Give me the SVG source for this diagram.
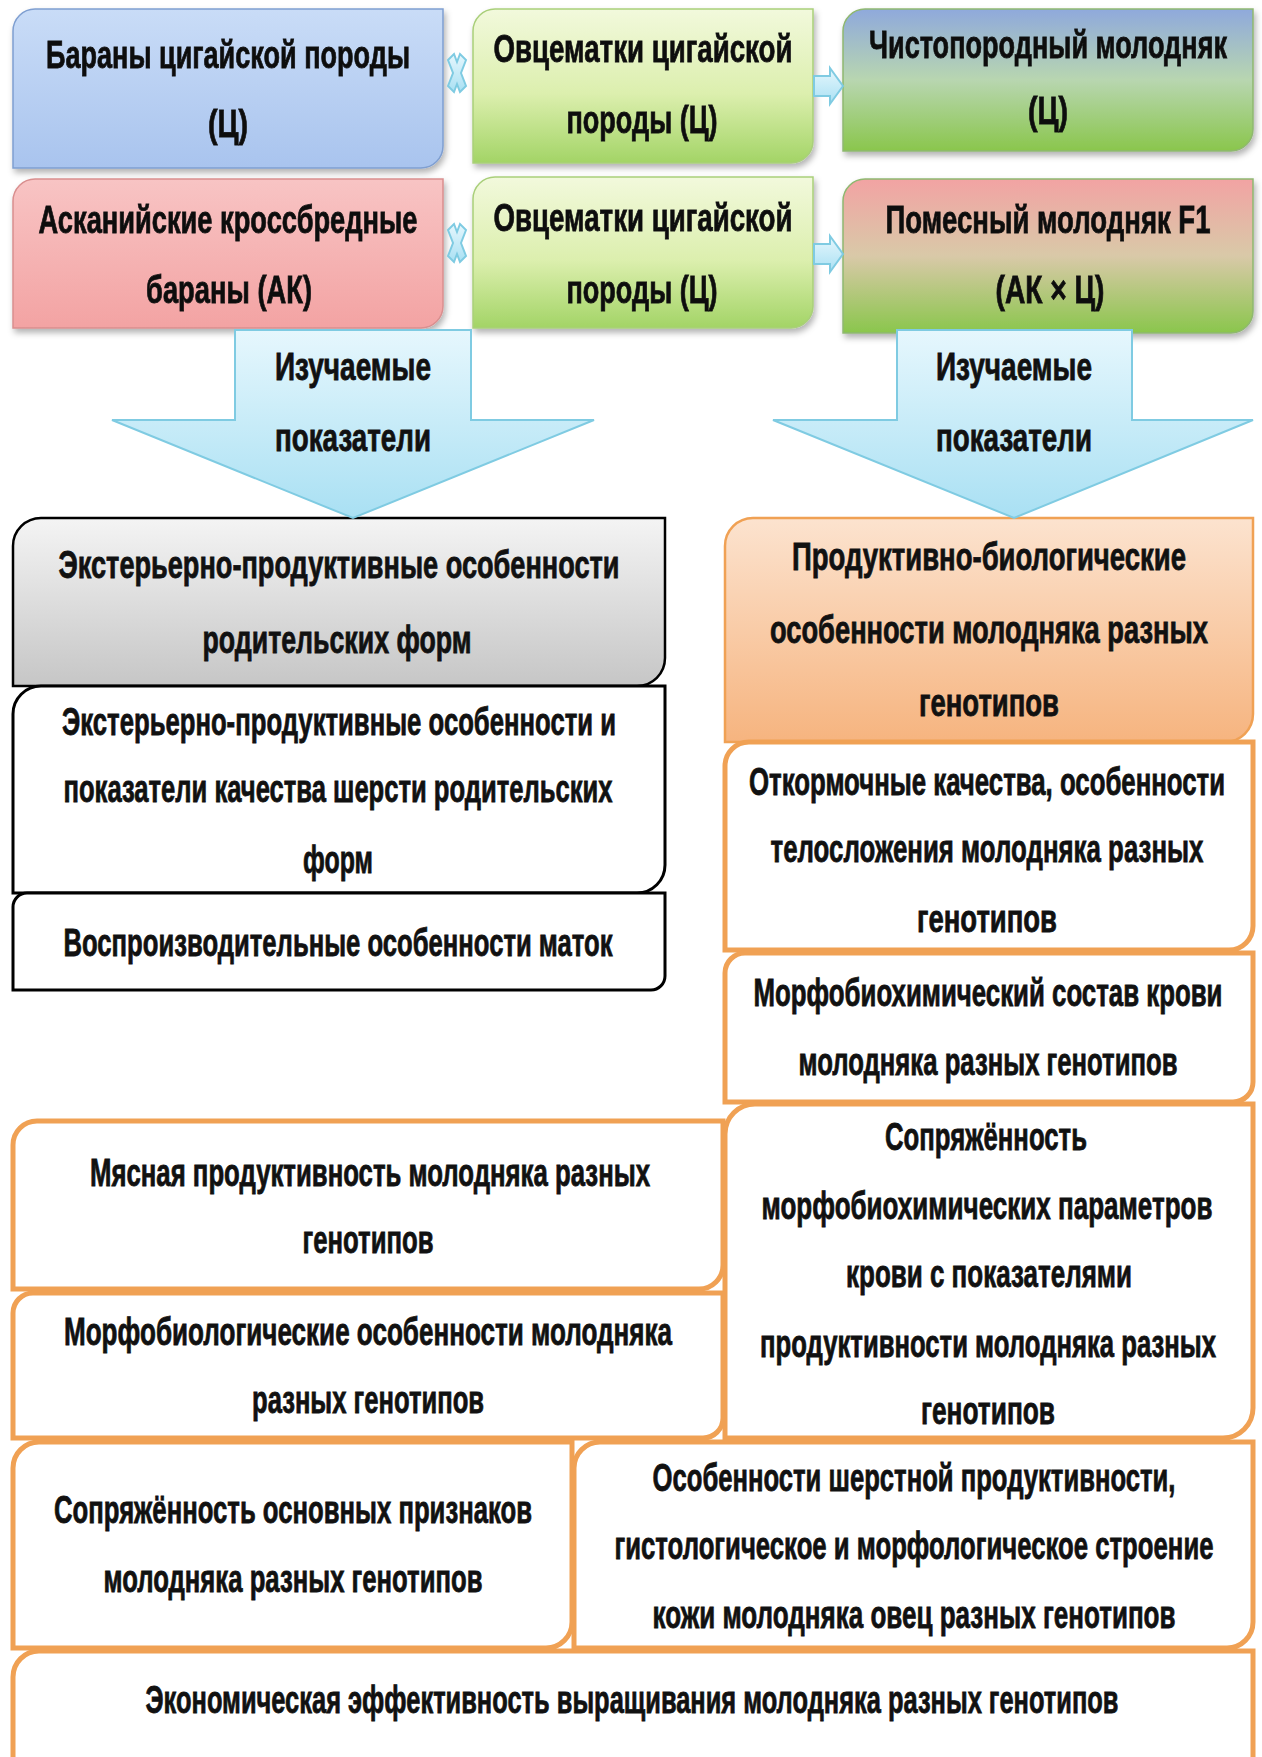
<svg xmlns="http://www.w3.org/2000/svg" width="1262" height="1757" viewBox="0 0 1262 1757">
<defs>
<linearGradient id="gBlue" x1="0" y1="0" x2="0" y2="1"><stop offset="0" stop-color="#c9dcf7"/><stop offset="1" stop-color="#a9c4ee"/></linearGradient>
<linearGradient id="gGreen" x1="0" y1="0" x2="0" y2="1"><stop offset="0" stop-color="#f2f9dc"/><stop offset="0.55" stop-color="#dcefae"/><stop offset="1" stop-color="#a3d466"/></linearGradient>
<linearGradient id="gBlueGreen" x1="0" y1="0" x2="0" y2="1"><stop offset="0" stop-color="#8fa9dc"/><stop offset="0.5" stop-color="#b8d6b0"/><stop offset="1" stop-color="#8ac64c"/></linearGradient>
<linearGradient id="gRed" x1="0" y1="0" x2="0" y2="1"><stop offset="0" stop-color="#f8c4c4"/><stop offset="1" stop-color="#f3a3a3"/></linearGradient>
<linearGradient id="gRedGreen" x1="0" y1="0" x2="0" y2="1"><stop offset="0" stop-color="#f2a3a3"/><stop offset="0.5" stop-color="#d9c9a8"/><stop offset="1" stop-color="#8ac64c"/></linearGradient>
<linearGradient id="gGray" x1="0" y1="0" x2="0" y2="1"><stop offset="0" stop-color="#f4f4f4"/><stop offset="1" stop-color="#c6c6c6"/></linearGradient>
<linearGradient id="gOrange" x1="0" y1="0" x2="0" y2="1"><stop offset="0" stop-color="#fce3cf"/><stop offset="1" stop-color="#f6b47f"/></linearGradient>
<linearGradient id="gCyan" x1="0" y1="0" x2="0" y2="1"><stop offset="0" stop-color="#e6f7fd"/><stop offset="1" stop-color="#a9e0f3"/></linearGradient>
<filter id="sh" x="-5%" y="-5%" width="110%" height="115%"><feDropShadow dx="2" dy="4" stdDeviation="3" flood-color="#000" flood-opacity="0.3"/></filter>
<style>
.t{font-family:"Liberation Sans",Arial,sans-serif;font-weight:bold;font-size:38px;text-anchor:middle;fill:#111;stroke:#111;stroke-width:0.8px;}
.top{filter:url(#sh);}
.org{fill:#fff;stroke:#f0a154;stroke-width:5;}
.blk{fill:#fff;stroke:#000;stroke-width:3;}
.arr{fill:url(#gCyan);stroke:#7fcbe2;stroke-width:2;}
</style>
</defs>
<rect width="1262" height="1757" fill="#fff"/>

<g id="nodeA" class="top"><path d="M35 9 H443 V146 A22 22 0 0 1 421 168 H13 V31 A22 22 0 0 1 35 9 Z" fill="url(#gBlue)" stroke="#7f9fd1" stroke-width="1.5"/>
<text class="t" x="228" y="68" textLength="364" lengthAdjust="spacingAndGlyphs">Бараны цигайской породы</text>
<text class="t" x="228" y="137" textLength="40" lengthAdjust="spacingAndGlyphs">(Ц)</text></g>

<g id="nodeB" class="top"><path d="M495 9 H813 V141 A22 22 0 0 1 791 163 H473 V31 A22 22 0 0 1 495 9 Z" fill="url(#gGreen)" stroke="#a9cf7a" stroke-width="1.5"/>
<text class="t" x="643" y="62" textLength="299" lengthAdjust="spacingAndGlyphs">Овцематки цигайской</text>
<text class="t" x="642" y="133" textLength="151" lengthAdjust="spacingAndGlyphs">породы (Ц)</text></g>

<g id="nodeC" class="top"><path d="M865 9 H1253 V129 A22 22 0 0 1 1231 151 H843 V31 A22 22 0 0 1 865 9 Z" fill="url(#gBlueGreen)" stroke="#8fb870" stroke-width="1.5"/>
<text class="t" x="1048" y="58" textLength="358" lengthAdjust="spacingAndGlyphs">Чистопородный молодняк</text>
<text class="t" x="1048" y="124" textLength="40" lengthAdjust="spacingAndGlyphs">(Ц)</text></g>

<g id="nodeD" class="top"><path d="M35 179 H443 V306 A22 22 0 0 1 421 328 H13 V201 A22 22 0 0 1 35 179 Z" fill="url(#gRed)" stroke="#d98f8f" stroke-width="1.5"/>
<text class="t" x="228" y="233" textLength="379" lengthAdjust="spacingAndGlyphs">Асканийские кроссбредные</text>
<text class="t" x="229" y="303" textLength="166" lengthAdjust="spacingAndGlyphs">бараны (АК)</text></g>

<g id="nodeE" class="top"><path d="M495 177 H813 V306 A22 22 0 0 1 791 328 H473 V199 A22 22 0 0 1 495 177 Z" fill="url(#gGreen)" stroke="#a9cf7a" stroke-width="1.5"/>
<text class="t" x="643" y="231" textLength="299" lengthAdjust="spacingAndGlyphs">Овцематки цигайской</text>
<text class="t" x="642" y="303" textLength="151" lengthAdjust="spacingAndGlyphs">породы (Ц)</text></g>

<g id="nodeF" class="top"><path d="M865 179 H1253 V311 A22 22 0 0 1 1231 333 H843 V201 A22 22 0 0 1 865 179 Z" fill="url(#gRedGreen)" stroke="#8fb870" stroke-width="1.5"/>
<text class="t" x="1048" y="233" textLength="325" lengthAdjust="spacingAndGlyphs">Помесный молодняк F1</text>
<text class="t" x="1050" y="303" textLength="109" lengthAdjust="spacingAndGlyphs">(АК × Ц)</text></g>

<g id="nodeGray"><path d="M41 518 H665 V658 A28 28 0 0 1 637 686 H13 V546 A28 28 0 0 1 41 518 Z" fill="url(#gGray)" stroke="#000" stroke-width="2.5"/>
<text class="t" x="339" y="578" textLength="561" lengthAdjust="spacingAndGlyphs">Экстерьерно-продуктивные особенности</text>
<text class="t" x="337" y="653" textLength="269" lengthAdjust="spacingAndGlyphs">родительских форм</text></g>

<g id="nodeW1"><path class="blk" d="M41 686 H665 V865 A28 28 0 0 1 637 893 H13 V714 A28 28 0 0 1 41 686 Z"/>
<text class="t" x="339" y="735" textLength="554" lengthAdjust="spacingAndGlyphs">Экстерьерно-продуктивные особенности и</text>
<text class="t" x="338" y="802" textLength="549" lengthAdjust="spacingAndGlyphs">показатели качества шерсти родительских</text>
<text class="t" x="338" y="873" textLength="70" lengthAdjust="spacingAndGlyphs">форм</text></g>

<g id="nodeW2"><path class="blk" d="M27 893 H665 V976 A14 14 0 0 1 651 990 H13 V907 A14 14 0 0 1 27 893 Z"/>
<text class="t" x="338" y="956" textLength="549" lengthAdjust="spacingAndGlyphs">Воспроизводительные особенности маток</text></g>

<g id="nodeOrange"><path d="M753 518 H1253 V714 A28 28 0 0 1 1225 742 H725 V546 A28 28 0 0 1 753 518 Z" fill="url(#gOrange)" stroke="#f0a154" stroke-width="2.5"/>
<text class="t" x="989" y="570" textLength="394" lengthAdjust="spacingAndGlyphs">Продуктивно-биологические</text>
<text class="t" x="989" y="643" textLength="438" lengthAdjust="spacingAndGlyphs">особенности молодняка разных</text>
<text class="t" x="989" y="716" textLength="140" lengthAdjust="spacingAndGlyphs">генотипов</text></g>

<g id="nodeR1"><path class="org" d="M749 742 H1253 V926 A24 24 0 0 1 1229 950 H725 V766 A24 24 0 0 1 749 742 Z"/>
<text class="t" x="987" y="795" textLength="476" lengthAdjust="spacingAndGlyphs">Откормочные качества, особенности</text>
<text class="t" x="987" y="862" textLength="433" lengthAdjust="spacingAndGlyphs">телосложения молодняка разных</text>
<text class="t" x="987" y="932" textLength="140" lengthAdjust="spacingAndGlyphs">генотипов</text></g>

<g id="nodeR2"><path class="org" d="M745 953 H1253 V1082 A20 20 0 0 1 1233 1102 H725 V973 A20 20 0 0 1 745 953 Z"/>
<text class="t" x="988" y="1006" textLength="469" lengthAdjust="spacingAndGlyphs">Морфобиохимический состав крови</text>
<text class="t" x="988" y="1075" textLength="379" lengthAdjust="spacingAndGlyphs">молодняка разных генотипов</text></g>

<g id="nodeMeat"><path class="org" d="M37 1121 H723 V1265 A24 24 0 0 1 699 1289 H13 V1145 A24 24 0 0 1 37 1121 Z"/>
<text class="t" x="370" y="1186" textLength="560" lengthAdjust="spacingAndGlyphs">Мясная продуктивность молодняка разных</text>
<text class="t" x="368" y="1253" textLength="131" lengthAdjust="spacingAndGlyphs">генотипов</text></g>

<g id="nodeMorph"><path class="org" d="M33 1293 H723 V1418 A20 20 0 0 1 703 1438 H13 V1313 A20 20 0 0 1 33 1293 Z"/>
<text class="t" x="368" y="1345" textLength="608" lengthAdjust="spacingAndGlyphs">Морфобиологические особенности молодняка</text>
<text class="t" x="368" y="1413" textLength="232" lengthAdjust="spacingAndGlyphs">разных генотипов</text></g>

<g id="nodeCorr"><path class="org" d="M755 1104 H1253 V1408 A30 30 0 0 1 1223 1438 H725 V1134 A30 30 0 0 1 755 1104 Z"/>
<text class="t" x="986" y="1150" textLength="202" lengthAdjust="spacingAndGlyphs">Сопряжённость</text>
<text class="t" x="987" y="1219" textLength="451" lengthAdjust="spacingAndGlyphs">морфобиохимических параметров</text>
<text class="t" x="989" y="1287" textLength="286" lengthAdjust="spacingAndGlyphs">крови с показателями</text>
<text class="t" x="988" y="1357" textLength="456" lengthAdjust="spacingAndGlyphs">продуктивности молодняка разных</text>
<text class="t" x="988" y="1424" textLength="134" lengthAdjust="spacingAndGlyphs">генотипов</text></g>

<g id="nodeBL"><path class="org" d="M39 1442 H572 V1622 A26 26 0 0 1 546 1648 H13 V1468 A26 26 0 0 1 39 1442 Z"/>
<text class="t" x="293" y="1523" textLength="478" lengthAdjust="spacingAndGlyphs">Сопряжённость основных признаков</text>
<text class="t" x="293" y="1592" textLength="379" lengthAdjust="spacingAndGlyphs">молодняка разных генотипов</text></g>

<g id="nodeBR"><path class="org" d="M600 1442 H1253 V1622 A26 26 0 0 1 1227 1648 H574 V1468 A26 26 0 0 1 600 1442 Z"/>
<text class="t" x="914" y="1491" textLength="523" lengthAdjust="spacingAndGlyphs">Особенности шерстной продуктивности,</text>
<text class="t" x="914" y="1559" textLength="599" lengthAdjust="spacingAndGlyphs">гистологическое и морфологическое строение</text>
<text class="t" x="914" y="1628" textLength="523" lengthAdjust="spacingAndGlyphs">кожи молодняка овец разных генотипов</text></g>

<g id="nodeEcon"><path class="org" d="M39 1651 H1253 V1775 H13 V1677 A26 26 0 0 1 39 1651 Z"/>
<text class="t" x="632" y="1713" textLength="973" lengthAdjust="spacingAndGlyphs">Экономическая эффективность выращивания молодняка разных генотипов</text></g>

<g id="connectors">
<g class="arr">
<path d="M448 60 L454 54 L457 62 L460 54 L466 60 L461 73 L466 86 L460 92 L457 84 L454 92 L448 86 L453 73 Z"/>
<path d="M448 230 L454 224 L457 232 L460 224 L466 230 L461 243 L466 256 L460 262 L457 254 L454 262 L448 256 L453 243 Z"/>
<path d="M814 76 H830 V68 L843 86 L830 104 V96 H814 Z"/>
<path d="M814 244 H830 V236 L843 254 L830 272 V264 H814 Z"/>
</g>
<g id="bigArrowL"><path class="arr" d="M235 330 H471 V420 H594 L353 518 L112 420 H235 Z"/>
<text class="t" x="353" y="380" textLength="156" lengthAdjust="spacingAndGlyphs">Изучаемые</text>
<text class="t" x="353" y="451" textLength="156" lengthAdjust="spacingAndGlyphs">показатели</text></g>
<g id="bigArrowR"><path class="arr" d="M897 330 H1132 V420 H1253 L1014 518 L773 420 H897 Z"/>
<text class="t" x="1014" y="380" textLength="156" lengthAdjust="spacingAndGlyphs">Изучаемые</text>
<text class="t" x="1014" y="451" textLength="156" lengthAdjust="spacingAndGlyphs">показатели</text></g>
</g>
</svg>
